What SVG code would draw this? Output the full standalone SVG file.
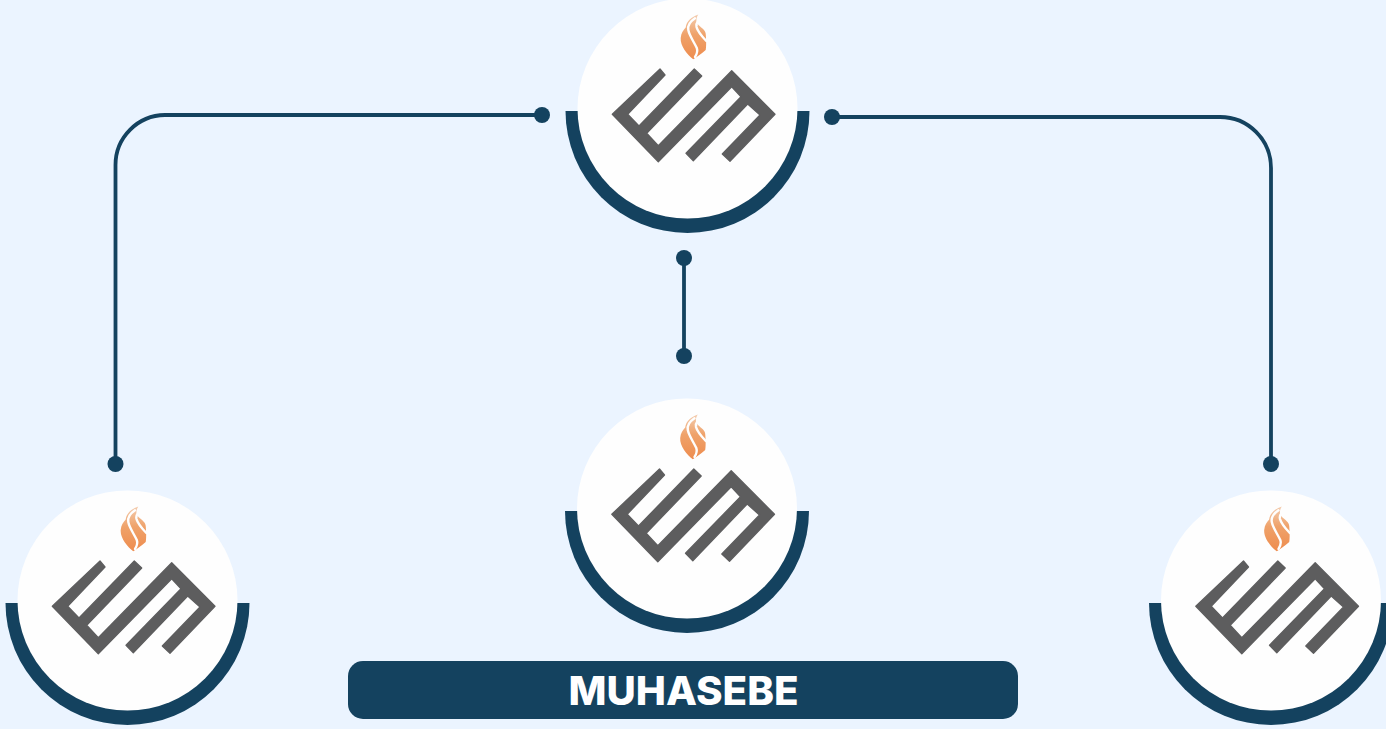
<svg xmlns="http://www.w3.org/2000/svg" width="1386" height="729" viewBox="0 0 1386 729">
<style>
.conn{fill:none;stroke:#14425F;stroke-width:3.8;stroke-linecap:round}
.dot{fill:#14425F}
.ring{fill:#14425F}
.disc{fill:#FEFEFE}
.mark{fill:#5D5D5E;stroke:#5D5D5E;stroke-width:1.3;stroke-linejoin:round}
.streak{fill:none;stroke:#FEFEFE;stroke-width:2.4;stroke-linecap:round}
.label{font-family:"Inter","Liberation Sans",sans-serif;font-weight:800;font-size:40px;fill:#fff;text-anchor:middle}
</style>
<defs>
<linearGradient id="flame" x1="0" y1="0" x2="0" y2="1">
<stop offset="0" stop-color="#F3CDB0"/>
<stop offset=".45" stop-color="#EFA26A"/>
<stop offset="1" stop-color="#EE8C4E"/>
</linearGradient>
<g id="badge">
<path class="ring" d="M-122 0A122 122 0 0 0 122 0Z"/>
<circle class="disc" cx="0" cy="-2.500" r="110"/>
<path fill="url(#flame)" d="M5.800 -51.700C0 -56 -7.500 -65 -6.800 -73C-6.400 -78 -4 -81 -1.800 -83.500C-1 -90 4 -94 10.800 -96.500C8 -92 8.500 -89 11 -86C14 -83 18.500 -81 18.300 -76C18.800 -70 18.800 -64 18.200 -61C14 -57 9 -54 5.800 -51.700Z"/>
<path class="streak" d="M7.500 -92.700C2 -89 -0.200 -86 0.800 -81C2 -75 6 -70 9.300 -63C10.300 -60 9.500 -57 7.500 -54"/>
<path class="streak" d="M15.500 -94C11 -91 8 -88.500 9 -84C10 -80 15 -74 18.800 -70"/>
<path class="mark" d="M-27.500 -42L-75.200 3.300L-29.200 50.700L44.200 -24.300L53.500 -14.300L-1.500 42.300L5.800 49.700L60.200 -7L72.500 4L34.800 43L42.500 50.300L87.500 3.300L44.200 -40.300L-29.200 34.700L-40.800 22.300L14.200 -35L6.800 -42L-48.500 15L-59.800 3.300L-22.500 -36Z"/>
</g>
</defs>
<rect width="1386" height="729" fill="#EBF4FF"/>
<g id="connectors">
<path class="conn" d="M542 115H165A50 50 0 0 0 115.500 165V464"/>
<path class="conn" d="M832 117H1220A51 51 0 0 1 1271 168V464"/>
<path class="conn" d="M684 258V356"/>
<circle class="dot" cx="542" cy="115" r="8"/>
<circle class="dot" cx="115.500" cy="464" r="8"/>
<circle class="dot" cx="832" cy="117" r="8"/>
<circle class="dot" cx="1271" cy="464" r="8"/>
<circle class="dot" cx="684" cy="258" r="8"/>
<circle class="dot" cx="684" cy="356" r="8"/>
</g>
<g id="node-top"><use href="#badge" x="687.500" y="111"/></g>
<g id="node-middle"><use href="#badge" x="687" y="511"/></g>
<g id="node-left"><use href="#badge" x="127.500" y="603"/></g>
<g id="node-right"><use href="#badge" x="1271" y="603"/></g>
<g id="title">
<rect x="348" y="661" width="670" height="58" rx="15" fill="#14425F"/>
<text class="label" x="683.500" y="704.500" textLength="230" lengthAdjust="spacingAndGlyphs">MUHASEBE</text>
</g>
</svg>
